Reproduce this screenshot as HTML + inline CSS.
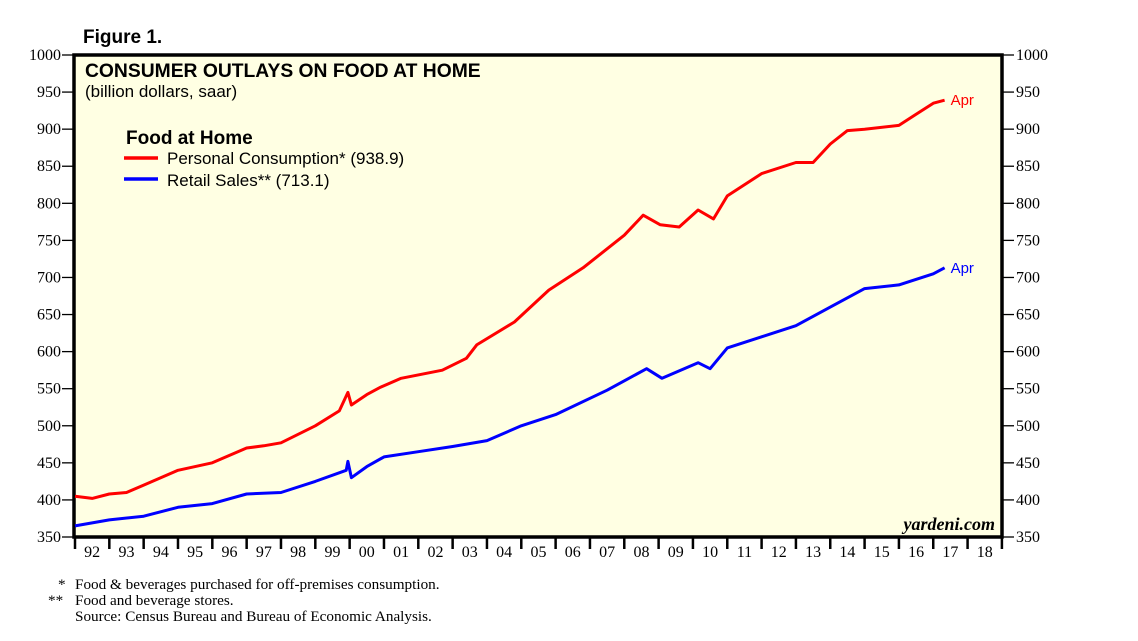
<!DOCTYPE html>
<html><head><meta charset="utf-8"><style>
body{margin:0;background:#fff;width:1138px;height:641px;overflow:hidden}
svg{display:block}
</style></head><body>
<svg id="chart" width="1138" height="641">
<text x="83" y="43" font-family="Liberation Sans, sans-serif" font-weight="bold" font-size="19">Figure 1.</text>
<rect x="74" y="55" width="928" height="482" fill="#ffffe3" stroke="#000" stroke-width="3.5"/>
<text x="85" y="77" font-family="Liberation Sans, sans-serif" font-weight="bold" font-size="19.3">CONSUMER OUTLAYS ON FOOD AT HOME</text>
<text x="85" y="97" font-family="Liberation Sans, sans-serif" font-size="17">(billion dollars, saar)</text>
<text x="126" y="144" font-family="Liberation Sans, sans-serif" font-weight="bold" font-size="19">Food at Home</text>
<g><line x1="124" y1="158" x2="158" y2="158" stroke="#f00" stroke-width="3.5"/><text x="167" y="164" font-family="Liberation Sans, sans-serif" font-size="17">Personal Consumption* (938.9)</text></g>
<g><line x1="124" y1="179" x2="158" y2="179" stroke="#00f" stroke-width="3.5"/><text x="167" y="186" font-family="Liberation Sans, sans-serif" font-size="17">Retail Sales** (713.1)</text></g>
<text x="995" y="530" text-anchor="end" font-family="Liberation Serif, serif" font-style="italic" font-weight="bold" font-size="18">yardeni.com</text>
<g font-family="Liberation Serif, serif" font-size="15.2">
<text x="75" y="589">Food &amp; beverages purchased for off-premises consumption.</text>
<text x="58" y="589">*</text>
<text x="48" y="605">**</text>
<text x="75" y="605">Food and beverage stores.</text>
<text x="75" y="621">Source: Census Bureau and Bureau of Economic Analysis.</text>
</g>
<g id="axes"></g>
<g id="series"></g>
</svg>
<script>
const yTicks=[350,400,450,500,550,600,650,700,750,800,850,900,950,1000];
const yearLabels=["92","93","94","95","96","97","98","99","00","01","02","03","04","05","06","07","08","09","10","11","12","13","14","15","16","17","18"];
const pceDates=[1992.0,1992.5,1993.0,1993.5,1994.0,1995.0,1996.0,1997.0,1997.5,1998.0,1999.0,1999.7,1999.95,2000.05,2000.5,2000.9,2001.5,2002.7,2003.4,2003.7,2004.8,2005.8,2006.8,2008.0,2008.55,2009.05,2009.6,2010.15,2010.6,2011.0,2012.0,2013.0,2013.5,2014.0,2014.5,2015.0,2016.0,2016.5,2017.0,2017.33];
const pceValues=[405,402,408,410,420,440,450,470,473,477,500,520,545,528,542,552,564,575,591,609,640,683,713,757,784,771,768,791,779,810,840,855,855,880,898,900,905,920,935,939];
const rsDates=[1992.0,1993.0,1994.0,1995.0,1996.0,1997.0,1998.0,1999.0,1999.9,1999.95,2000.05,2000.5,2001.0,2002.0,2003.0,2004.0,2005.0,2006.0,2007.5,2008.65,2009.1,2010.15,2010.5,2011.0,2012.0,2013.0,2014.0,2015.0,2016.0,2017.0,2017.33];
const rsValues=[365,373,378,390,395,408,410,425,440,452,430,445,458,465,472,480,500,515,548,577,564,585,577,605,620,635,660,685,690,705,713];
const NS="http://www.w3.org/2000/svg";
const x=t=>75+(t-1992)*34.33;
const y=v=>537-(v-350)*482/650;
const ax=document.getElementById('axes'),se=document.getElementById('series');
function mk(tag,attrs,parent){const e=document.createElementNS(NS,tag);for(const k in attrs)e.setAttribute(k,attrs[k]);parent.appendChild(e);return e;}
yTicks.forEach(v=>{
  const l=mk('line',{x1:62,x2:74,y1:y(v),y2:y(v),stroke:'#000','stroke-width':1.3},ax);
  
  
  const r=mk('line',{x1:1002,x2:1014,y1:y(v),y2:y(v),stroke:'#000','stroke-width':1.3},ax);
  
  
  const t1=mk('text',{x:61,y:y(v)+5,'text-anchor':'end','font-family':'Liberation Serif, serif','font-size':16},ax);t1.textContent=v;
  
  
  const t2=mk('text',{x:1016,y:y(v)+5,'font-family':'Liberation Serif, serif','font-size':16},ax);t2.textContent=v;
  
  
});
for(let i=0;i<=yearLabels.length;i++){
  const tk=mk('line',{x1:x(1992+i),x2:x(1992+i),y1:537,y2:549,stroke:'#000','stroke-width':2.5},ax);
  
  
  if(i<yearLabels.length){
    const t=mk('text',{x:x(1992.5+i),y:557,'text-anchor':'middle','font-family':'Liberation Serif, serif','font-size':16},ax);t.textContent=yearLabels[i];
    
    
  }
}
function line(d,v,c,name){
  const p=mk('polyline',{points:d.map((t,i)=>x(t).toFixed(1)+','+y(v[i]).toFixed(1)).join(' '),fill:'none',stroke:c,'stroke-width':3,'stroke-linejoin':'round'},se);
  
  
  const a=mk('text',{x:x(d[d.length-1])+6,y:y(v[v.length-1])+5,fill:c,'font-family':'Liberation Sans, sans-serif','font-size':15},se);a.textContent='Apr';
  
  
}
line(pceDates,pceValues,'#f00','personal-consumption-line');
line(rsDates,rsValues,'#00f','retail-sales-line');
</script>
</body></html>
